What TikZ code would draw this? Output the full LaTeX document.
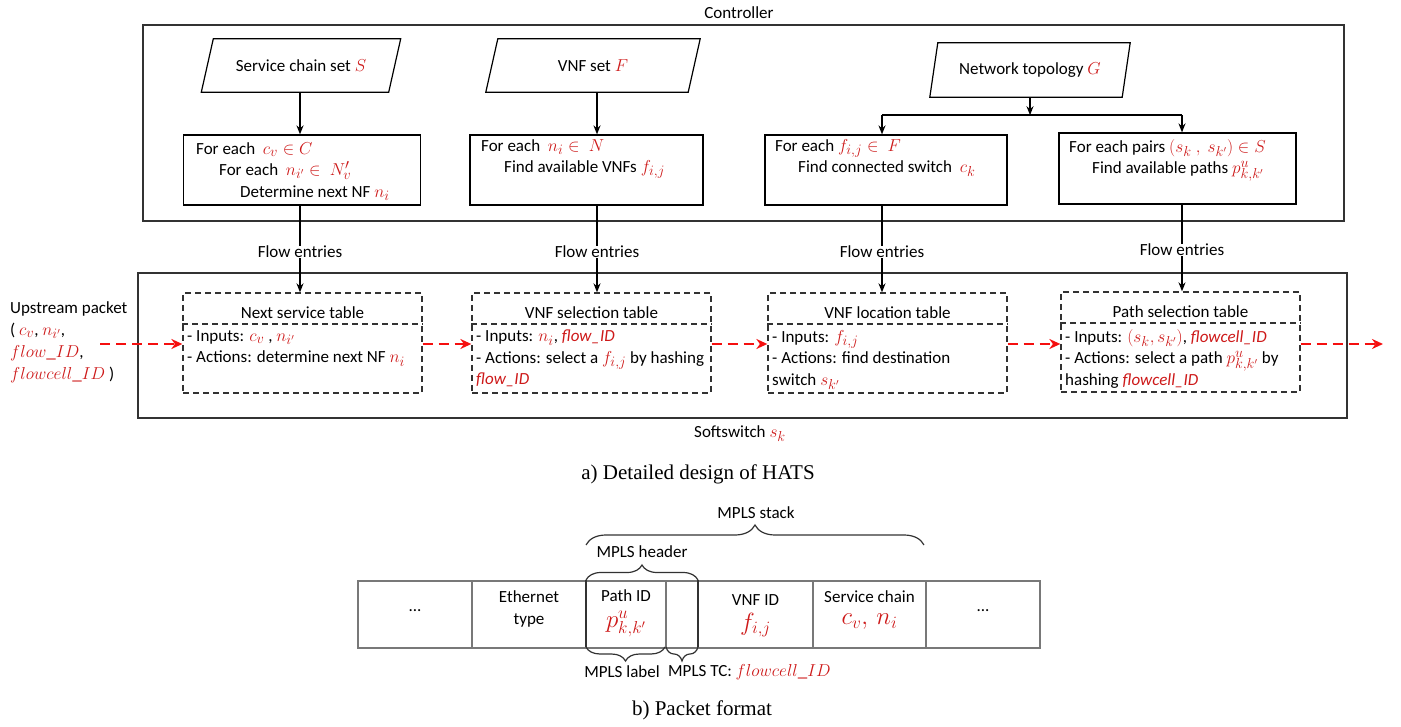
\documentclass[tikz,border=0pt]{standalone}
\usepackage{fontspec}
\setmainfont{Liberation Serif}
\setsansfont{Carlito}
\usetikzlibrary{arrows.meta,decorations.pathreplacing,calc}
\definecolor{rd}{RGB}{205,25,25}
\definecolor{ar}{RGB}{245,15,15}
\definecolor{bx}{RGB}{50,50,50}
\definecolor{cellgray}{RGB}{120,120,120}
\newcommand{\rmath}[1]{{\fontsize{19}{21.5}\selectfont\textcolor{rd}{$#1$}}}
\newcommand{\rbig}[1]{{\fontsize{24}{26}\selectfont\textcolor{rd}{$#1$}}}
\newcommand{\ritl}[1]{\textcolor{rd}{\itshape #1}}
\begin{document}
\begin{tikzpicture}[x=1pt,y=-1pt,
  every node/.style={font=\sffamily\fontsize{17}{21.5}\selectfont, inner sep=0pt},
  frame/.style={draw=bx, line width=1.5pt},
  solidbox/.style={draw=black, line width=1.2pt},
  para/.style={minimum height=53pt},
  dbox/.style={draw=bx, line width=1.3pt, dash pattern=on 6pt off 4pt},
  txt/.style={anchor=north west, align=left},
  conn/.style={draw=black, line width=1.8pt, -{Stealth[length=9pt,width=7pt]}},
  plain/.style={draw=black, line width=1.8pt},
  redarrow/.style={draw=ar, line width=2.6pt, dash pattern=on 10pt off 6pt, -{Stealth[length=11pt,width=10pt]}},
  cell/.style={draw=cellgray, line width=1.2pt, minimum height=67pt},
  bracestyle/.style={draw=bx, line width=1.2pt, decorate, decoration={brace, amplitude=#1}},
  captext/.style={font=\rmfamily\fontsize{21}{25}\selectfont}
]
\useasboundingbox (0,0) rectangle (1401,727);

% ---------- Controller ----------
\node[frame, minimum width=1201pt, minimum height=196pt] (ctrl) at (743.5,123) {};
\node (ctrllab) at (739,13) {Controller};

% parallelograms
\node[para, minimum width=187pt] (p1) at (301,65.5) {Service chain set \rmath{S}};
\draw[solidbox] ([xshift=6pt]p1.north west) -- ([xshift=6pt]p1.north east) -- ([xshift=-6pt]p1.south east) -- ([xshift=-6pt]p1.south west) -- cycle;
\node[para, minimum width=202pt] (p2) at (593,65.5) {VNF set \rmath{F}};
\draw[solidbox] ([xshift=6pt]p2.north west) -- ([xshift=6pt]p2.north east) -- ([xshift=-6pt]p2.south east) -- ([xshift=-6pt]p2.south west) -- cycle;
\node[para, minimum width=192pt, minimum height=54pt] (p3) at (1030,70) {Network topology \rmath{G}};
\draw[solidbox] ([xshift=4pt]p3.north west) -- ([xshift=4pt]p3.north east) -- ([xshift=-4pt]p3.south east) -- ([xshift=-4pt]p3.south west) -- cycle;

% process boxes
\node[solidbox, minimum width=237pt, minimum height=70pt] (b1) at (302,170) {};
\node[txt] (b1t) at (196,142) {For each~ \rmath{c_v\in C}\\\hspace*{23pt}For each~ \rmath{n_{i'}\in~ N'_v}\\\hspace*{44pt}Determine next NF \rmath{n_i}};
\node[solidbox, minimum width=233pt, minimum height=70pt] (b2) at (586.5,170) {};
\node[txt] (b2t) at (481,139) {For each~ \rmath{n_i\in~ N}\\\hspace*{23pt}Find available VNFs \rmath{f_{i,j}}};
\node[solidbox, minimum width=242pt, minimum height=70pt] (b3) at (886,170) {};
\node[txt] (b3t) at (775,139) {For each \rmath{f_{i,j}\in~ F}\\\hspace*{23pt}Find connected switch~ \rmath{c_k}};
\node[solidbox, minimum width=237pt, minimum height=71pt] (b4) at (1177.5,168.5) {};
\node[txt] (b4t) at (1069,139) {For each pairs \rmath{(s_k~,~s_{k'})\in S}\\\hspace*{23pt}Find available paths \rmath{p^u_{k,k'}}};

% flow entries labels
\node (fe1) at (300,252) {Flow entries};
\node (fe2) at (597,252) {Flow entries};
\node (fe3) at (882,252) {Flow entries};
\node (fe4) at (1182,250) {Flow entries};

% controller connectors
\draw[conn] (p1.south -| fe1) -- (b1.north -| fe1);
\draw[conn] (p2.south -| fe2) -- (b2.north -| fe2);
\coordinate (fork) at ($(p3.south)+(0,18)$);
\draw[conn] (p3.south) -- (fork);
\draw[plain] (fork -| fe3) -- (fork -| fe4);
\draw[conn] (fork -| fe3) -- (b3.north -| fe3);
\draw[conn] (fork -| fe4) -- (b4.north -| fe4);

% ---------- Softswitch ----------
\node[frame, minimum width=1209pt, minimum height=145pt] (sw) at (742.5,345.5) {};
\node (swlab) at (740,434) {Softswitch \rmath{s_k}};

% tables
\node[dbox, minimum width=239pt, minimum height=100pt] (t1) at (302.5,343) {};
\draw[dbox] (t1.west |- 0,324) -- (t1.east |- 0,324);
\node (t1h) at (302.5,313) {Next service table};
\node[txt] (t1t) at (187,330) {- Inputs: \rmath{c_v}~, \rmath{n_{i'}}\\- Actions: determine next NF \rmath{n_i}};

\node[dbox, minimum width=239pt, minimum height=100pt] (t2) at (591.5,343) {};
\draw[dbox] (t2.west |- 0,324) -- (t2.east |- 0,324);
\node (t2h) at (591.5,313) {VNF selection table};
\node[txt] (t2t) at (476,330) {- Inputs: \rmath{n_i}, \ritl{flow\_ID}\\- Actions: select a \rmath{f_{i,j}} by hashing\\\ritl{flow\_ID}};

\node[dbox, minimum width=239pt, minimum height=100pt] (t3) at (887.5,343) {};
\draw[dbox] (t3.west |- 0,324) -- (t3.east |- 0,324);
\node (t3h) at (887.5,313) {VNF location table};
\node[txt] (t3t) at (772,330) {- Inputs: \rmath{f_{i,j}}\\- Actions: find destination\\switch \rmath{s_{k'}}};

\node[dbox, minimum width=239pt, minimum height=100pt] (t4) at (1180.5,342) {};
\draw[dbox] (t4.west |- 0,323) -- (t4.east |- 0,323);
\node (t4h) at (1180.5,312) {Path selection table};
\node[txt] (t4t) at (1065,329) {- Inputs: \rmath{(s_k,s_{k'})}, \ritl{flowcell\_ID}\\- Actions: select a path \rmath{p^u_{k,k'}} by\\hashing \ritl{flowcell\_ID}};

% flow entries connectors
\draw[plain] (b1.south -| fe1) -- (fe1.north);
\draw[conn] (fe1.south) -- (t1.north -| fe1);
\draw[plain] (b2.south -| fe2) -- (fe2.north);
\draw[conn] (fe2.south) -- (t2.north -| fe2);
\draw[plain] (b3.south -| fe3) -- (fe3.north);
\draw[conn] (fe3.south) -- (t3.north -| fe3);
\draw[plain] (b4.south -| fe4) -- (fe4.north);
\draw[conn] (fe4.south) -- (t4.north -| fe4);

% upstream packet and red arrows
\node[txt, font=\sffamily\fontsize{17}{22}\selectfont] (up) at (10,301) {Upstream packet\\( \rmath{c_v}, \rmath{n_{i'}},\\\rmath{flow\_ID},\\\rmath{flowcell\_ID} )};
\coordinate (ua) at (100,344);
\coordinate (uo) at (1383,344);
\draw[redarrow] (ua) -- (t1.west |- ua);
\draw[redarrow] (t1.east |- ua) -- (t2.west |- ua);
\draw[redarrow] (t2.east |- ua) -- (t3.west |- ua);
\draw[redarrow] (t3.east |- ua) -- (t4.west |- ua);
\draw[redarrow] (t4.east |- ua) -- (uo);

% caption a
\node[captext] (capa) at (698,474) {a) Detailed design of HATS};

% ---------- Packet format ----------
\node[cell, minimum width=114pt] (c1) at (415,614.5) {};
\node[cell, minimum width=114pt] (c2) at (529,614.5) {};
\node[cell, minimum width=80pt] (c3) at (626,614.5) {};
\node[cell, minimum width=32pt] (c4) at (682,614.5) {};
\node[cell, minimum width=115pt] (c5) at (755.5,614.5) {};
\node[cell, minimum width=113pt] (c6) at (869.5,614.5) {};
\node[cell, minimum width=114pt] (c7) at (983,614.5) {};

\node (c1t) at (415,611) {...};
\node[align=center, font=\sffamily\fontsize{17}{22}\selectfont] (c2t) at (529,609) {Ethernet\\type};
\node (c3a) at (626,596) {Path ID};
\node (c3b) at (626,624) {\rbig{p^u_{k,k'}}};
\node (c5a) at (755.5,600) {VNF ID};
\node (c5b) at (755.5,625) {\rbig{f_{i,j}}};
\node (c6a) at (869.5,597) {Service chain};
\node (c6b) at (869.5,622) {\rbig{c_v,\, n_i}};
\node (c7t) at (983,611) {...};

% braces
\draw[bracestyle=20pt] (586,545) -- (924,545);
\node (stack) at (756,513) {MPLS stack};
\draw[bracestyle=15pt] (586,580) -- (698,580);
\draw[draw=bx, line width=1.2pt] (586,580) -- (586,647);
\draw[draw=bx, line width=1.2pt] (698,580) -- (698,647);
\node (hdr) at (642,552) {MPLS header};
\draw[bracestyle=14pt] (665,647) -- (586,647);
\draw[bracestyle=14pt] (698,647) -- (666,647);
\node (lbl) at (622,672) {MPLS label};
\node[anchor=west] (tc) at (668,672) {MPLS TC: \rmath{flowcell\_ID}};

% caption b
\node[captext] (capb) at (702,710) {b) Packet format};
\end{tikzpicture}
\end{document}
